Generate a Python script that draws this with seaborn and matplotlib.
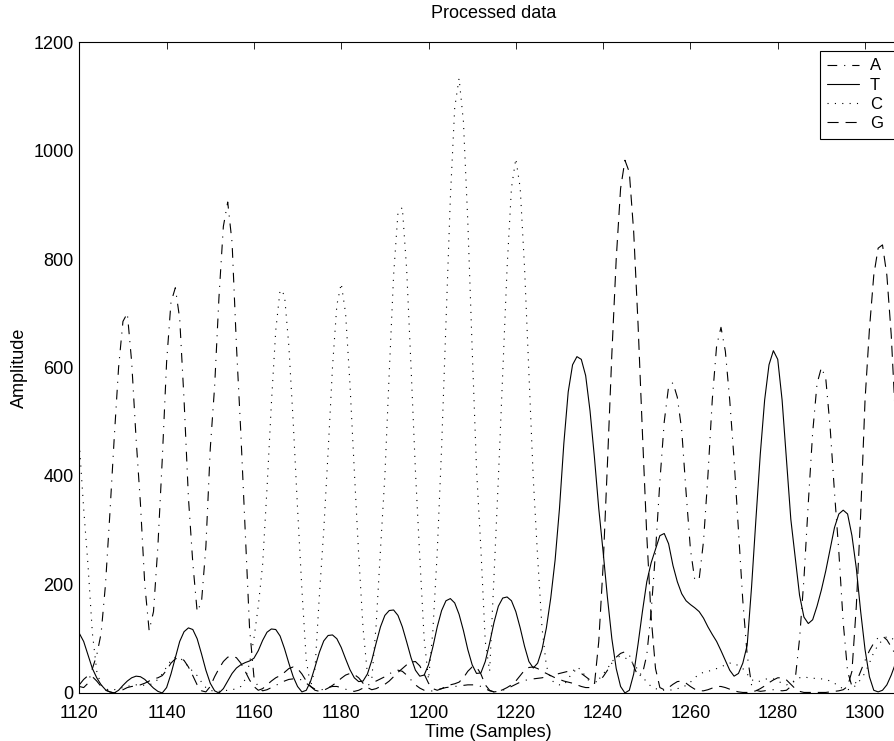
import numpy as np
import pandas as pd
import matplotlib
matplotlib.use('Agg')
import matplotlib.pyplot as plt
import seaborn as sns

# processed chromatogram, one value per sample starting at 1120
first_sample = 1120
bases = ['A', 'T', 'C', 'G']

a_trace = [12, 10, 18, 45, 70, 110, 200, 330, 470, 600,
           685, 700, 610, 470, 350, 200, 115, 150, 270, 430,
           610, 720, 747, 690, 540, 360, 240, 150, 168, 270,
           450, 565, 730, 860, 905, 830, 640, 480, 300, 120,
           30, 10, 4, 6, 10, 14, 18, 22, 25, 26,
           26, 24, 18, 12, 7, 5, 7, 10, 12, 12,
           10, 7, 4, 3, 5, 9, 14, 18, 22, 26,
           30, 35, 40, 42, 40, 33, 24, 15, 9, 5,
           3, 4, 6, 8, 10, 11, 12, 13, 14, 15,
           15, 15, 12, 8, 4, 2, 3, 5, 8, 12,
           16, 20, 23, 25, 26, 27, 28, 30, 32, 34,
           36, 38, 40, 41, 40, 36, 30, 24, 20, 22,
           30, 42, 55, 66, 73, 76, 70, 50, 30, 35,
           70, 150, 260, 390, 500, 565, 572, 545, 485, 370,
           265, 208, 210, 280, 400, 540, 640, 674, 630, 540,
           430, 300, 170, 70, 15, 5, 3, 4, 6, 6,
           5, 4, 5, 12, 25, 100, 210, 350, 480, 570,
           600, 580, 490, 370, 260, 130, 40, 12, 20, 40,
           60, 78, 92, 102, 105, 98, 85, 70]

t_trace = [110, 95, 70, 45, 28, 15, 6, 2, 0, 5,
           14, 22, 28, 31, 30, 25, 17, 9, 3, 0,
           10, 35, 65, 95, 113, 120, 117, 100, 72, 42,
           18, 4, 0, 8, 22, 36, 46, 52, 56, 59,
           64, 78, 97, 112, 118, 117, 105, 82, 55, 30,
           12, 2, 5, 22, 48, 75, 96, 106, 107, 100,
           84, 63, 43, 28, 21, 22, 35, 60, 92, 122,
           143, 152, 153, 143, 122, 94, 65, 42, 31, 33,
           52, 85, 122, 152, 170, 174, 166, 145, 115, 80,
           52, 36, 37, 58, 92, 130, 160, 175, 177, 170,
           150, 120, 86, 58, 46, 55, 80, 120, 175, 245,
           340, 460, 555, 605, 620, 615, 585, 520, 435, 340,
           260, 175, 100, 45, 12, 0, 5, 35, 90, 150,
           205, 240, 265, 290, 294, 275, 235, 205, 183, 170,
           163, 157, 150, 138, 122, 108, 95, 78, 60, 42,
           31, 36, 55, 88, 195, 320, 440, 540, 605, 631,
           615, 540, 430, 320, 250, 180, 140, 128, 135, 160,
           190, 225, 265, 305, 330, 337, 330, 290, 230, 150,
           80, 30, 5, 2, 5, 15, 33, 55]

c_trace = [460, 340, 235, 110, 40, 15, 8, 5, 6, 8,
           10, 12, 14, 15, 15, 14, 15, 18, 25, 35,
           48, 60, 66, 65, 58, 48, 40, 32, 20, 10,
           5, 3, 3, 4, 5, 6, 8, 12, 25, 55,
           100, 160, 237, 377, 533, 668, 743, 734, 640, 500,
           340, 190, 60, 12, 45, 180, 300, 445, 600, 715,
           755, 700, 570, 410, 255, 120, 35, 25, 125, 265,
           400, 590, 770, 885, 895, 780, 600, 410, 250, 100,
           25, 115, 260, 453, 682, 912, 1079, 1133, 1053, 869,
           635, 412, 265, 95, 40, 215, 395, 589, 784, 931,
           985, 931, 784, 589, 395, 250, 120, 50, 25, 18,
           15, 15, 25, 40, 48, 42, 30, 20, 18, 25,
           35, 45, 58, 65, 68, 65, 60, 55, 42, 30,
           20, 12, 8, 6, 5, 5, 6, 8, 10, 14,
           20, 28, 35, 38, 40, 42, 45, 48, 52, 55,
           55, 50, 45, 35, 25, 20, 22, 25, 27, 26,
           22, 18, 15, 18, 24, 28, 30, 28, 27, 27,
           26, 25, 22, 18, 12, 8, 6, 8, 15, 25,
           37, 55, 75, 88, 98, 104, 102, 95]

g_trace = [15, 25, 32, 30, 22, 12, 5, 2, 0, 2,
           6, 10, 12, 13, 15, 18, 22, 26, 28, 32,
           42, 55, 63, 65, 60, 48, 32, 15, 4, 2,
           12, 30, 45, 58, 66, 68, 65, 55, 40, 24,
           12, 5, 8, 15, 22, 28, 32, 38, 45, 48,
           45, 35, 22, 12, 5, 3, 5, 9, 14, 20,
           27, 33, 36, 34, 28, 18, 10, 6, 8, 12,
           16, 22, 30, 38, 45, 52, 57, 58, 50, 35,
           18, 8, 5, 8, 12, 15, 17, 20, 28, 40,
           48, 48, 35, 15, 5, 2, 3, 6, 10, 15,
           22, 32, 42, 47, 48, 45, 40, 36, 32, 28,
           25, 22, 20, 18, 15, 12, 10, 10, 15, 95,
           235, 425, 625, 800, 930, 982, 960, 850, 680, 480,
           290, 140, 45, 10, 6, 10, 16, 21, 22, 18,
           12, 7, 4, 4, 6, 9, 12, 12, 10, 7,
           4, 2, 1, 1, 2, 4, 8, 13, 19, 24,
           28, 28, 24, 16, 8, 3, 1, 1, 1, 1,
           1, 1, 2, 3, 4, 6, 12, 40, 160, 330,
           540, 670, 770, 820, 826, 770, 660, 500]

x_ticks = [1120, 1140, 1160, 1180, 1200, 1220, 1240, 1260, 1280, 1300]
y_ticks = [0, 200, 400, 600, 800, 1000, 1200]

sns.set_style('white')
plt.rcParams['font.family'] = ['Liberation Sans', 'DejaVu Sans']
plt.rcParams['lines.scale_dashes'] = False
for key in ['text.color', 'axes.labelcolor', 'xtick.color', 'ytick.color', 'axes.edgecolor']:
    plt.rcParams[key] = 'black'

samples = np.arange(first_sample, first_sample + len(a_trace))
frames = []
for base, trace in zip(bases, [a_trace, t_trace, c_trace, g_trace]):
    frames.append(pd.DataFrame({'Time': samples, 'Amplitude': trace, 'Base': base}))
df = pd.concat(frames, ignore_index=True)

fig = plt.figure(figsize=(8.95, 7.41), dpi=100)
# axes runs past the right edge of the picture, like the cropped original
ax = fig.add_axes([0.0886, 0.0648, 0.9267, 0.8785])

sns.lineplot(data=df, x='Time', y='Amplitude', hue='Base', style='Base',
             hue_order=bases, style_order=bases,
             palette={b: 'black' for b in bases},
             dashes={'A': (7, 5, 0.8, 5), 'T': '', 'C': (0.8, 4.5), 'G': (8, 5)},
             linewidth=0.8, estimator=None, legend=False, ax=ax)

ax.set_xlim(1120, 1310)
ax.set_ylim(0, 1200)
ax.set_xticks(x_ticks)
ax.set_yticks(y_ticks)
ax.tick_params(direction='in', top=True, right=True, length=5, width=0.6,
               labelsize=13)
ax.tick_params(axis='x', pad=8.5)
ax.tick_params(axis='y', pad=4)
for sp in ax.spines.values():
    sp.set_linewidth(0.8)
    sp.set_color('black')

ax.set_xlabel('Time (Samples)', fontsize=13)
ax.set_ylabel('Amplitude', fontsize=13)
ax.xaxis.set_label_coords(0.4937, -0.048)
ax.yaxis.set_label_coords(-0.062, 0.5)
ax.set_title('Processed data', fontsize=13, pad=17)

leg = ax.legend(ax.lines[:4], bases, loc='upper left',
                bbox_to_anchor=(820 / 895, 0, 0.1, 1 - 51 / 741),
                bbox_transform=fig.transFigure, mode='expand', borderaxespad=0,
                frameon=True, fancybox=False, edgecolor='black', framealpha=1,
                fontsize=12, handlelength=1.9, handletextpad=0.65,
                borderpad=0.45, labelspacing=0.25)
leg.get_frame().set_linewidth(0.8)

fig.savefig('out.png', dpi=100)
